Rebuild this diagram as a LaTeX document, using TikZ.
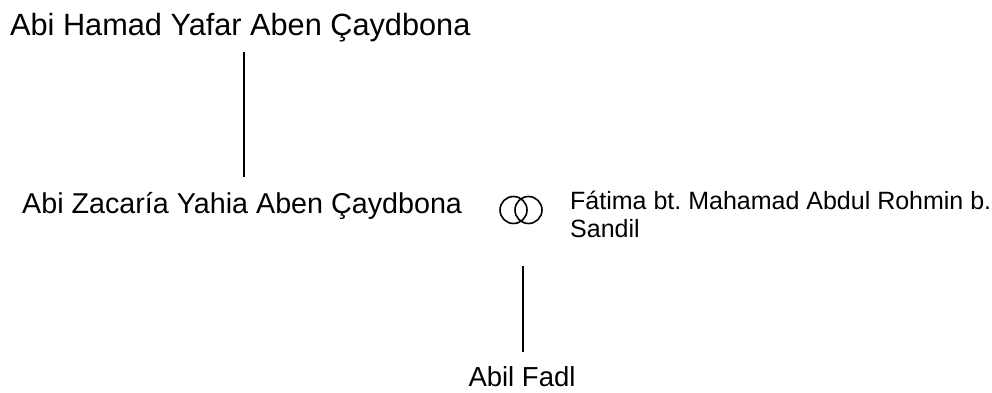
\documentclass[tikz,border=0pt]{standalone}
\usepackage{fontspec}
\setmainfont{Liberation Sans}
\frenchspacing
\begin{document}
\begin{tikzpicture}[x=1pt,y=-1pt,
  person/.style={inner sep=0pt, anchor=base west},
  link/.style={line width=1.6pt, black},
  ring/.style={line width=1.6pt, black}]
\useasboundingbox (0,0) rectangle (992,392);
% people
\node[person, font=\fontsize{30.7}{34}\selectfont] (gen1) at (10,35) {Abi Hamad Yafar Aben Çaydbona};
\node[person, font=\fontsize{28.7}{32}\selectfont] (gen2) at (22,213) {Abi Zacaría Yahia Aben Çaydbona};
\node[person, font=\fontsize{25}{28}\selectfont, align=left, anchor=north west] (spouse) at (570,191) {Fátima bt. Mahamad Abdul Rohmin b.\\Sandil};
\node[person, anchor=base, font=\fontsize{27.5}{30}\selectfont] (child) at (522,386) {Abil Fadl};
% marriage rings
\coordinate (rings) at (521,210);
\draw[ring] ([xshift=-7.5pt]rings) circle (13.5);
\draw[ring] ([xshift=7.5pt]rings) circle (13.5);
% connectors
\coordinate (a1) at (244,52);
\coordinate (a2) at (244,177);
\draw[link] (a1) -- (a2);
\coordinate (b1) at (523,266);
\coordinate (b2) at (523,352);
\draw[link] (b1) -- (b2);
\end{tikzpicture}
\end{document}
